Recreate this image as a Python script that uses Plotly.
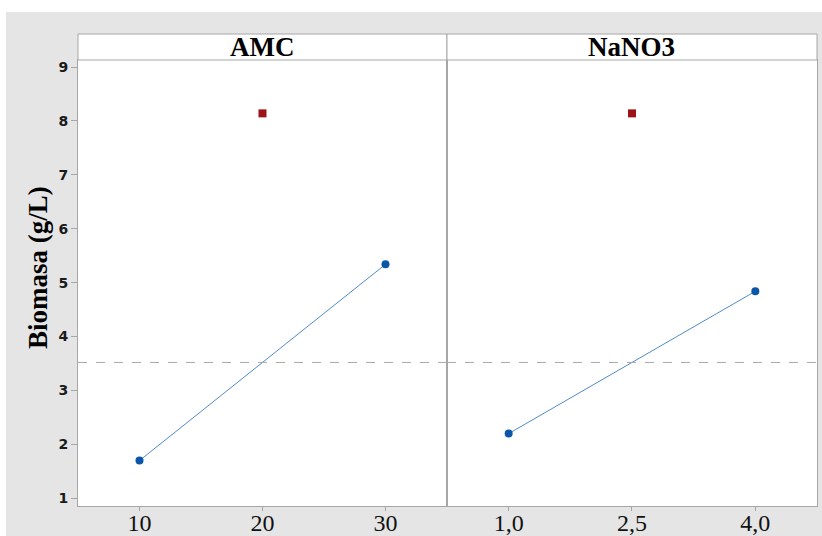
import plotly.graph_objects as go
from plotly.subplots import make_subplots

# Main effects data: mean biomass per factor level
amc_levels = [10, 30]
amc_means = [1.70, 5.34]
amc_center = 20
nano3_levels = [1.0, 4.0]
nano3_means = [2.20, 4.84]
nano3_center = 2.5
center_mean = 8.14

panel_titles = ["AMC", "NaNO3"]
amc_ticks = [10, 20, 30]
amc_ticktext = ["10", "20", "30"]
nano3_ticks = [1.0, 2.5, 4.0]
nano3_ticktext = ["1,0", "2,5", "4,0"]
y_ticks = [1, 2, 3, 4, 5, 6, 7, 8, 9]

grand_mean = (sum(amc_means) / len(amc_means) + sum(nano3_means) / len(nano3_means)) / 2

W, H = 822, 536
ML, MR, MT, MB = 78, 5, 60, 30
pw = W - ML - MR
ph = H - MT - MB

def px_x(p):
    return (p - ML) / pw

def px_y(p):
    return (H - MB - p) / ph

split = 0.4993
grey = "#e5e5e5"
frame = "#a6a6a6"

fig = make_subplots(rows=1, cols=2, shared_yaxes=True, horizontal_spacing=0)
fig.update_xaxes(domain=[0, split], row=1, col=1)
fig.update_xaxes(domain=[split, 1], row=1, col=2)

# grey backdrop, then the white plotting area over it
fig.add_shape(type="rect", xref="paper", yref="paper", x0=px_x(6), x1=px_x(W + 2),
              y0=px_y(H + 2), y1=px_y(12), fillcolor=grey, line=dict(width=0), layer="below")
fig.add_shape(type="rect", xref="paper", yref="paper", x0=0, x1=1, y0=0, y1=1,
              fillcolor="white", line=dict(width=0), layer="below")

line_col = "#4f8bcb"
dot_col = "#0a56a8"
sq_col = "#9b1418"

panels = [
    (amc_levels, amc_means, amc_center, 1),
    (nano3_levels, nano3_means, nano3_center, 2),
]
for lv, mv, c, col in panels:
    fig.add_trace(go.Scatter(x=lv, y=mv, mode="lines+markers",
                             line=dict(color=line_col, width=1),
                             marker=dict(color=dot_col, size=8, symbol="circle"),
                             showlegend=False, hoverinfo="x+y"),
                  row=1, col=col)
    fig.add_trace(go.Scatter(x=[c], y=[center_mean], mode="markers",
                             marker=dict(color=sq_col, size=8, symbol="square"),
                             showlegend=False, hoverinfo="x+y"),
                  row=1, col=col)
    fig.add_hline(y=grand_mean, line=dict(color="#a8a8a8", width=1, dash="dash"),
                  row=1, col=col)

# panel header strips
for x0, x1 in [(0, split), (split, 1)]:
    fig.add_shape(type="rect", xref="paper", yref="paper", x0=x0, x1=x1,
                  y0=1, y1=px_y(34), fillcolor="white", line=dict(color=frame, width=1))

tick_font = dict(family="Liberation Serif", size=24, color="#111111")
fig.update_xaxes(showline=True, mirror=True, linecolor=frame, linewidth=1,
                 showgrid=False, zeroline=False, ticks="outside", ticklen=4,
                 tickcolor=frame, tickfont=tick_font, automargin=False,
                 ticklabelstandoff=-9)
fig.update_xaxes(range=[5, 35], tickvals=amc_ticks, ticktext=amc_ticktext, row=1, col=1)
fig.update_xaxes(range=[0.25, 4.75], tickvals=nano3_ticks, ticktext=nano3_ticktext, row=1, col=2)

fig.update_yaxes(range=[0.857, 9.13], showline=True, mirror=True, linecolor=frame,
                 linewidth=1, showgrid=False, zeroline=False, automargin=False)
fig.update_yaxes(tickvals=y_ticks, ticks="outside", ticklen=6, tickcolor=frame,
                 tickfont=dict(family="DejaVu Sans", size=14, color="#1a1a1a", weight="bold"),
                 row=1, col=1)
fig.update_yaxes(ticks="", showticklabels=False, row=1, col=2)

for title, (x0, x1) in zip(panel_titles, [(0, split), (split, 1)]):
    fig.add_annotation(text=f"<b>{title}</b>", xref="paper", yref="paper",
                       x=(x0 + x1) / 2, y=px_y(47), xanchor="center", yanchor="middle",
                       showarrow=False,
                       font=dict(family="Liberation Serif", size=27, color="black"))
fig.add_annotation(text="<b>Biomasa (g/L)</b>", xref="paper", yref="paper",
                   x=px_x(38), y=px_y(268), xanchor="center", yanchor="middle",
                   textangle=-90, showarrow=False,
                   font=dict(family="Liberation Serif", size=27, color="black"))

fig.update_layout(width=W, height=H, margin=dict(l=ML, r=MR, t=MT, b=MB, autoexpand=False),
                  paper_bgcolor="white", plot_bgcolor="white", showlegend=False)

fig.write_html("out.html")
